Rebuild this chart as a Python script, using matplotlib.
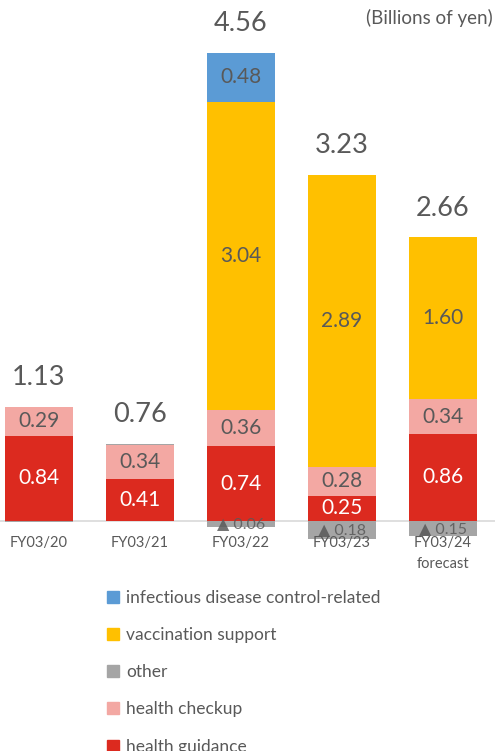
import matplotlib
matplotlib.use('Agg')
import matplotlib.pyplot as plt
import numpy as np
from matplotlib.patches import Patch

plt.rcParams['font.family'] = ['Lato', 'DejaVu Sans']

# values in billions of yen
years = ['FY03/20', 'FY03/21', 'FY03/22', 'FY03/23', 'FY03/24\nforecast']
guidance = [0.84, 0.41, 0.74, 0.25, 0.86]
checkup = [0.29, 0.34, 0.36, 0.28, 0.34]
other = [-0.01, 0.01, -0.06, -0.18, -0.15]
vaccination = [0.0, 0.0, 3.04, 2.89, 1.60]
infectious = [0.0, 0.0, 0.48, 0.0, 0.0]
totals = [1.13, 0.76, 4.56, 3.23, 2.66]

C_GUIDE = '#DC2A1F'
C_CHECK = '#F3A8A3'
C_OTHER = '#A5A5A5'
C_VACC = '#FFC000'
C_INF = '#5B9BD5'
TXT = '#595959'

fig = plt.figure(figsize=(4.95, 7.51), dpi=100)
ax = fig.add_axes([0, (751 - 560) / 751, 1, 560 / 751])

x = np.arange(len(years))
w = 0.67

pos_stack = [(guidance, C_GUIDE, 'white'), (checkup, C_CHECK, TXT),
             (other, C_OTHER, None), (vaccination, C_VACC, TXT),
             (infectious, C_INF, TXT)]

bottom_pos = np.zeros(len(x))
for vals, col, tcol in pos_stack:
    vals = np.array(vals)
    pv = np.where(vals > 0, vals, 0)
    ax.bar(x, pv, w, bottom=bottom_pos, color=col, edgecolor='none')
    if tcol is not None:
        for i, v in enumerate(vals):
            if v > 0.1:
                ax.text(x[i], bottom_pos[i] + v / 2, '%.2f' % v, ha='center', va='center',
                        fontsize=15, color=tcol)
    bottom_pos += pv

# negative "other" drawn below the axis
neg = np.where(np.array(other) < 0, other, 0)
ax.bar(x, neg, w, color=C_OTHER, edgecolor='none')
for i, v in enumerate(other):
    if v < -0.03:
        ax.text(x[i], v / 2, '\u25b2 %.2f' % abs(v), ha='center', va='center',
                fontsize=11.5, color=TXT, alpha=0.85)

for i, t in enumerate(totals):
    ax.annotate('%.2f' % t, (x[i], bottom_pos[i]), xytext=(0, 21), textcoords='offset points',
                ha='center', va='center', fontsize=19.5, color=TXT)

ax.axhline(0, color='#D9D9D9', lw=1.2, zorder=0)

k = 101.3
ax.set_ylim(-(560 - 521) / k, 521 / k)
ax.set_xlim(-39 / 101, (495 - 39) / 101)

for s in ax.spines.values():
    s.set_visible(False)
ax.set_yticks([])
ax.set_xticks(x)
ax.set_xticklabels(years, fontsize=10.5, color=TXT, linespacing=1.6)
ax.tick_params(axis='x', length=0, pad=0)
for lbl in ax.get_xticklabels():
    lbl.set_verticalalignment('top')
    lbl.set_y((560 - 536) / 560)

fig.text(493, 751 - 18, '(Billions of yen)', transform=None, ha='right', va='center',
         fontsize=13.5, color=TXT)

handles = [Patch(color=C_INF, label='infectious disease control-related'),
           Patch(color=C_VACC, label='vaccination support'),
           Patch(color=C_OTHER, label='other'),
           Patch(color=C_CHECK, label='health checkup'),
           Patch(color=C_GUIDE, label='health guidance')]
leg = fig.legend(handles=handles, loc='upper left', bbox_to_anchor=(100 / 495, 1 - 583 / 751),
                 frameon=False, fontsize=12.5, labelcolor=TXT, handlelength=0.7,
                 handleheight=0.7, handletextpad=0.4, labelspacing=1.22, borderaxespad=0)

fig.savefig('out.png', dpi=100)
